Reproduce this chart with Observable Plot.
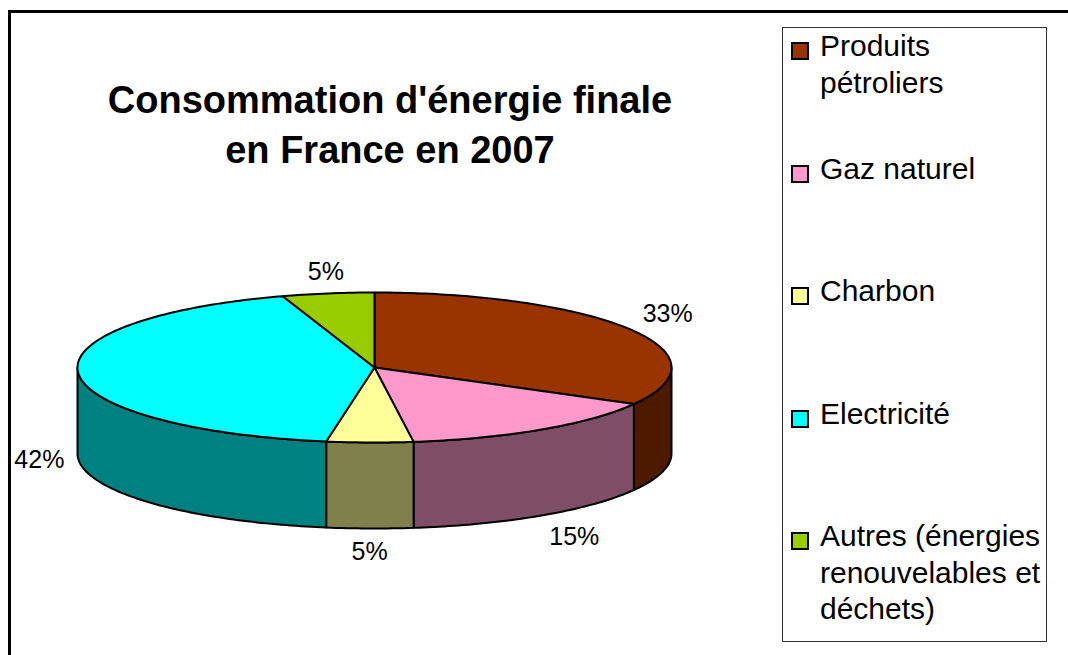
<!DOCTYPE html>
<html>
<head>
<meta charset="utf-8">
<script src="https://cdn.jsdelivr.net/npm/d3@7"></script>
<script src="https://cdn.jsdelivr.net/npm/@observablehq/plot@0.6"></script>
<style>
  body { margin: 0; background: #fff; }
  #wrap { position: relative; width: 1068px; height: 655px; overflow: hidden; background: #fff; font-family: "Liberation Sans", Arial, sans-serif; }
  #frame { position: absolute; left: 8px; top: 10px; width: 1200px; height: 800px; border: 3px solid #000; }
  #plot { position: absolute; left: 0; top: 0; }
  #title { position: absolute; left: 0; top: 75px; width: 780px; text-align: center; font-weight: bold; font-size: 38px; line-height: 50px; color: #000; }
  #legend { position: absolute; left: 782px; top: 27px; width: 265px; height: 615px; border: 1px solid #333; box-sizing: border-box; }
  .item { position: absolute; left: 820px; font-size: 30px; line-height: 36.5px; white-space: pre; color: #000; }
  .sw { position: absolute; left: 791px; width: 18px; height: 18px; border: 2px solid #000; box-sizing: border-box; }
</style>
</head>
<body>
<div id="wrap">
  <div id="frame"></div>
  <div id="plot"></div>
  <div id="title">Consommation d'énergie finale<br>en France en 2007</div>
  <div id="legend"></div>
</div>
<script>
// ---- data ----
const legendLabels = ["Produits\npétroliers", "Gaz naturel", "Charbon", "Electricité", "Autres (énergies\nrenouvelables et\ndéchets)"];
const categories = legendLabels.map(s => s.replace(/\n/g, " "));
const values = [33.1, 14.8, 4.7, 42.4, 5.0];
const topColors = ["#993300", "#FF99CC", "#FFFF99", "#00FFFF", "#99CC00"];
const sideColors = ["#4D1A00", "#804D66", "#80804D", "#008080", "#4D6600"];

// ---- geometry (unit circle, squashed) ----
const RY = 75 / 297;      // ellipse vertical ratio
const DEPTH = 86 / 297;   // pie thickness
const GAP = 14 / 297;     // label gap
const total = d3.sum(values);
const rad = d => d * Math.PI / 180;

function arcPts(a0, a1, yOff) {
  const n = Math.max(2, Math.ceil(a1 - a0));
  const pts = [];
  for (let k = 0; k <= n; k++) {
    const t = rad(a0 + (a1 - a0) * k / n);
    pts.push({x: Math.sin(t), y: RY * Math.cos(t) + yOff});
  }
  return pts;
}

let cum = 0;
const slices = values.map((v, i) => {
  const a0 = cum / total * 360;
  cum += v;
  const a1 = cum / total * 360;
  return {i, name: categories[i], value: v, a0, a1};
});

const walls = [];
const tops = [];
const labels = [];
for (const s of slices) {
  const ws = Math.max(s.a0, 90), we = Math.min(s.a1, 270);
  if (we > ws) {
    const t = arcPts(ws, we, 0);
    const b = arcPts(ws, we, -DEPTH).reverse();
    walls.push({fill: sideColors[s.i], pts: [...t, ...b, t[0]]});
  }
  tops.push({fill: topColors[s.i], pts: [{x: 0, y: 0}, ...arcPts(s.a0, s.a1, 0), {x: 0, y: 0}]});
  const m = rad((s.a0 + s.a1) / 2);
  const sx = Math.sin(m), cy = Math.cos(m);
  const ex = sx, ey = RY * cy - (cy < 0 ? DEPTH : 0);
  labels.push({
    x: ex + GAP * sx,
    y: ey + GAP * cy,
    text: Math.round(s.value / total * 100) + "%",
    textAnchor: sx > 0.3 ? "start" : sx < -0.3 ? "end" : "middle",
    lineAnchor: cy > 0.3 ? "bottom" : cy < -0.3 ? "top" : "middle"
  });
}

const polyMark = p => Plot.line(p.pts, {x: "x", y: "y", fill: p.fill, stroke: "#000", strokeWidth: 2, strokeLinejoin: "round", curve: "linear"});
const labelMarks = d3.groups(labels, d => d.textAnchor + "|" + d.lineAnchor).map(([k, arr]) =>
  Plot.text(arr, {x: "x", y: "y", text: "text", textAnchor: arr[0].textAnchor, lineAnchor: arr[0].lineAnchor,
    fontSize: 25, fontFamily: "Liberation Sans, Arial, sans-serif", fill: "#000"}));

const chart = Plot.plot({
  width: 1068,
  height: 655,
  margin: 0,
  x: {domain: [-1, 1], range: [77, 671], axis: null},
  y: {domain: [-1, 1], range: [664, 70], axis: null},
  style: {background: "transparent", overflow: "visible"},
  marks: [
    ...walls.map(polyMark),
    ...tops.map(polyMark),
    ...labelMarks
  ]
});
document.getElementById("plot").appendChild(chart);

// ---- legend ----
const wrap = document.getElementById("wrap");
legendLabels.forEach((lab, i) => {
  const base = 57 + i * 122.5;
  const sw = document.createElement("div");
  sw.className = "sw";
  sw.style.top = (base - 15) + "px";
  sw.style.background = topColors[i];
  wrap.appendChild(sw);
  const t = document.createElement("div");
  t.className = "item";
  t.style.top = (base - 28.6) + "px";
  t.textContent = lab;
  wrap.appendChild(t);
});
</script>
</body>
</html>
